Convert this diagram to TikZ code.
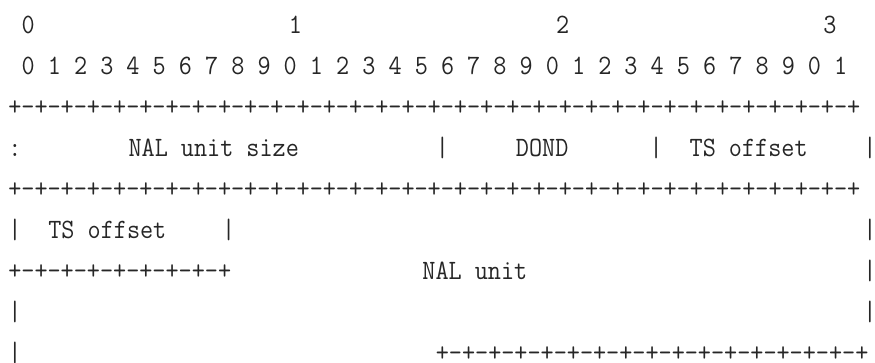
\documentclass[tikz,border=0pt]{standalone}
\usepackage{xcolor}
\usepackage{tikz}
\tikzset{
    base/.style={inner sep=0pt, outer sep=0pt, anchor=base west, text=black!85, font=\fontsize{28}{30}\selectfont\ttfamily},
    field/.style={base},
    rule/.style={base},
    bar/.style={base}
}
\newcommand{\mono}[1]{\scalebox{0.909}[1]{#1}}
\newcommand{\fullrule}{+-+-+-+-+-+-+-+-+-+-+-+-+-+-+-+-+-+-+-+-+-+-+-+-+-+-+-+-+-+-+-+-+}
\newcommand{\halfrule}{+-+-+-+-+-+-+-+-+-+-+-+-+-+-+-+-+}
\newcommand{\quarterrule}{+-+-+-+-+-+-+-+-+}

\begin{document}
\begin{tikzpicture}[x=13.36pt, y=-41pt]
    \useasboundingbox (-8.3pt,33.5pt) rectangle (866.7pt,-328.5pt);
    % bit numbers
    \foreach \n/\c in {0/1, 1/21, 2/41, 3/61}
        \node [field] (Top\n) at (\c,0) {\mono{\n}};
    \node [field] (Bits) at (1,1) {\mono{0 1 2 3 4 5 6 7 8 9 0 1 2 3 4 5 6 7 8 9 0 1 2 3 4 5 6 7 8 9 0 1}};

    % first word
    \node [rule] (RuleA) at (0,2) {\mono{\fullrule}};
    \node [bar] (ColonA) at (0,3) {\mono{:}};
    \node [field] (Size) at (9,3) {\mono{NAL unit size}};
    \node [bar] (BarA) at (32,3) {\mono{|}};
    \node [field] (Dond) at (38,3) {\mono{DOND}};
    \node [bar] (BarB) at (48,3) {\mono{|}};
    \node [field] (TsHigh) at (51,3) {\mono{TS offset}};
    \node [bar] (BarC) at (64,3) {\mono{|}};
    \node [rule] (RuleB) at (0,4) {\mono{\fullrule}};

    % second word and NAL unit
    \node [bar] (BarD) at (0,5) {\mono{|}};
    \node [field] (TsLow) at (3,5) {\mono{TS offset}};
    \node [bar] (BarE) at (16,5) {\mono{|}};
    \node [bar] (BarF) at (64,5) {\mono{|}};
    \node [rule] (RuleC) at (0,6) {\mono{\quarterrule}};
    \node [field] (Nal) at (31,6) {\mono{NAL unit}};
    \node [bar] (BarG) at (64,6) {\mono{|}};
    \node [bar] (BarH) at (0,7) {\mono{|}};
    \node [bar] (BarI) at (64,7) {\mono{|}};
    \node [bar] (BarJ) at (0,8) {\mono{|}};
    \node [rule] (RuleD) at (32,8) {\mono{\halfrule}};
\end{tikzpicture}
\end{document}
